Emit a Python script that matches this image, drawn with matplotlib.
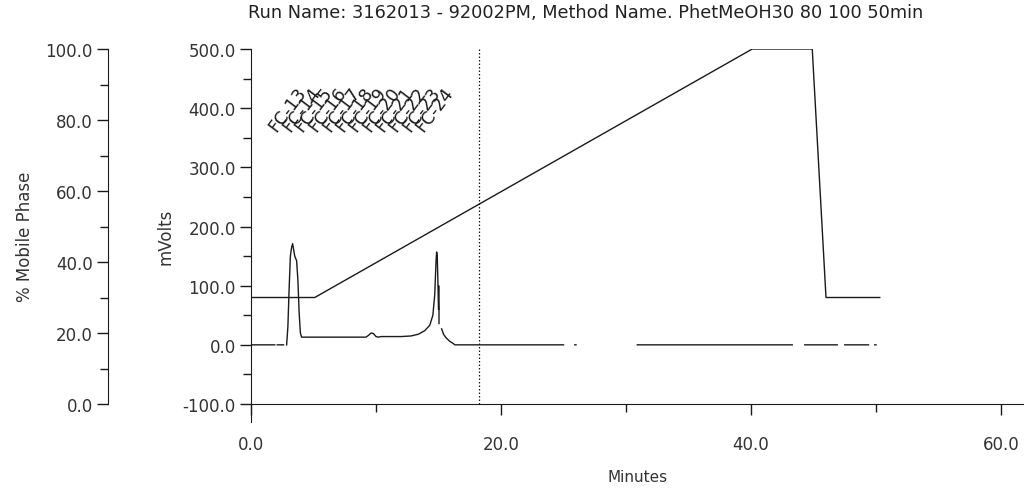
import numpy as np
import matplotlib
matplotlib.use('Agg')
import matplotlib.pyplot as plt
from matplotlib.ticker import MultipleLocator, FormatStrFormatter

# chromatogram trace (minutes, mVolts); NaN = break in the trace
trace_time = [0.0, 1.9, np.nan, 2.1, 2.6, np.nan,
              2.85, 2.95, 3.05, 3.15, 3.25, 3.33, 3.42, 3.5, 3.65, 3.75, 3.85, 3.95, 4.05,
              6.0, 9.2, 9.4, 9.6, 9.8, 10.0, 10.2, 10.4, 12.0, 12.8, 13.4, 13.9, 14.3,
              14.55, 14.7, 14.8, 14.85, 14.9, 14.95, 15.0, np.nan,
              15.04, 15.04, np.nan,
              15.25, 15.4, 15.6, 15.9, 16.2, 16.3, 25.0, np.nan,
              25.9, 26.0, np.nan,
              30.9, 43.3, np.nan,
              44.3, 46.9, np.nan,
              47.5, 49.4, np.nan,
              49.9, 50.0]
trace_mv = [0, 0, np.nan, 0, 0, np.nan,
            0, 30, 95, 150, 165, 171, 160, 150, 142, 110, 55, 20, 13,
            13, 13, 16, 20, 19, 14, 13, 14, 14, 15, 18, 24, 33,
            50, 85, 140, 157, 150, 110, 60, np.nan,
            36, 99, np.nan,
            27, 18, 12, 6, 2, 0, 0, np.nan,
            0, 0, np.nan,
            0, 0, np.nan,
            0, 0, np.nan,
            0, 0, np.nan,
            0, 0]

# solvent gradient (minutes, % mobile phase)
grad_time = [0.0, 5.1, 40.1, 44.9, 46.0, 50.3]
grad_pct = [30, 30, 100, 100, 30, 30]

# fraction collector labels
fc_labels = ['FC-%d' % i for i in range(13, 25)]
fc_time = [2.0, 3.1, 4.1, 5.2, 6.3, 7.4, 8.4, 9.5, 10.6, 11.6, 12.7, 13.8]

marker_time = 18.2

title = 'Run Name: 3162013 - 92002PM, Method Name. PhetMeOH30 80 100 50min'

ink = '#1a1a1a'
plt.rcParams['font.family'] = 'DejaVu Sans'

fig = plt.figure(figsize=(10.24, 4.89), dpi=100)
ax = fig.add_axes([251 / 1024, 1 - 423 / 489, 1 - 251 / 1024, (423 - 50) / 489])

ax.set_xlim(0, (1024 - 251) / 12.5)
ax.set_ylim(-100 - 18 / 0.592, 500)

ax.plot(trace_time, trace_mv, color=ink, lw=1.0)
ax.plot([marker_time, marker_time], [-100, 500], color=ink, lw=0.9, ls=(0, (1.2, 1.6)))

for t, lab in zip(fc_time, fc_labels):
    ax.text(t, 360, lab, rotation=53, fontsize=12.5, color=ink,
            rotation_mode='anchor', ha='left', va='baseline')

# spines / ticks for mVolts axis
ax.spines['top'].set_visible(False)
ax.spines['right'].set_visible(False)
ax.spines['bottom'].set_position(('data', -100))
ax.spines['left'].set_color(ink)
ax.spines['bottom'].set_color(ink)
ax.set_yticks(np.arange(-100, 501, 100))
ax.set_yticks(np.arange(-50, 500, 100), minor=True)
ax.yaxis.set_major_formatter(FormatStrFormatter('%.1f'))
ax.xaxis.set_major_locator(MultipleLocator(20))
ax.xaxis.set_minor_locator(MultipleLocator(10))
ax.xaxis.set_major_formatter(FormatStrFormatter('%.1f'))
ax.tick_params(axis='both', which='major', length=8, width=1, colors=ink,
               labelsize=12, labelcolor='#333333', pad=3)
ax.tick_params(axis='both', which='minor', length=6, width=1, colors=ink)
ax.tick_params(axis='x', which='major', pad=14)
ax.set_ylabel('mVolts', fontsize=12, color='#333333', labelpad=6)
ax.set_xlabel('Minutes', fontsize=11, color='#333333', labelpad=12)

# % mobile phase axis
ax2 = ax.twinx()
lo, hi = ax.get_ylim()
ax2.set_ylim((lo + 100) / 6, (hi + 100) / 6)
ax2.plot(grad_time, grad_pct, color=ink, lw=1.0)
ax2.yaxis.set_ticks_position('left')
ax2.yaxis.set_label_position('left')
ax2.spines['left'].set_position(('axes', (108 - 251) / (1024 - 251)))
ax2.spines['left'].set_bounds(0, 100)
ax2.spines['left'].set_color(ink)
for s in ['top', 'right', 'bottom']:
    ax2.spines[s].set_visible(False)
ax2.set_yticks(np.arange(0, 101, 20))
ax2.set_yticks(np.arange(10, 100, 20), minor=True)
ax2.yaxis.set_major_formatter(FormatStrFormatter('%.1f'))
ax2.tick_params(axis='y', which='major', length=8, width=1, colors=ink,
                labelsize=12, labelcolor='#333333', pad=3)
ax2.tick_params(axis='y', which='minor', length=6, width=1, colors=ink)
ax2.set_ylabel('% Mobile Phase', fontsize=12, color='#333333', labelpad=8)

fig.text(586 / 1024, 1 - 13 / 489, title, ha='center', va='center',
         fontsize=12.8, color='#222222')

fig.savefig('out.png', dpi=100)
